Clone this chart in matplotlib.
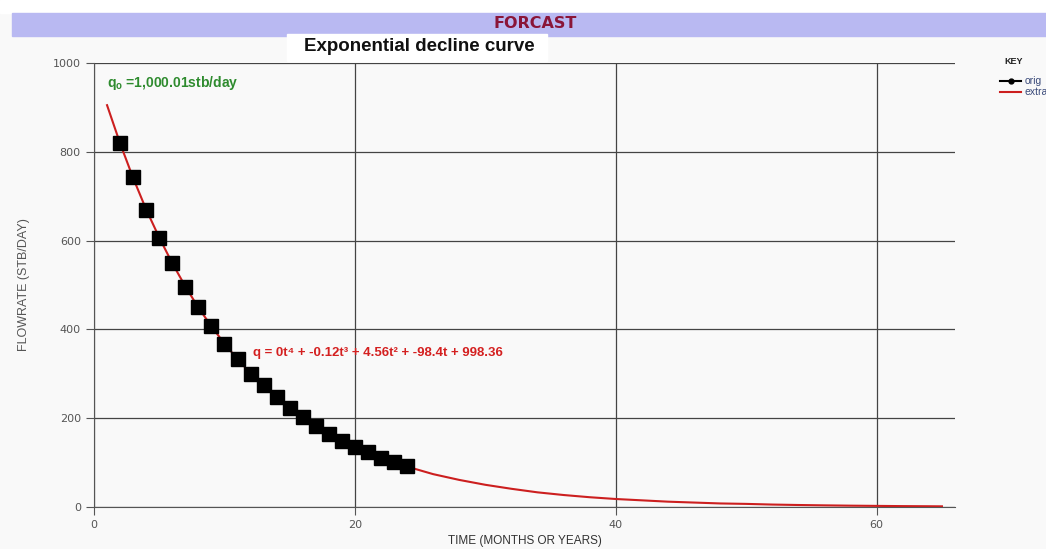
import numpy as np
import matplotlib
matplotlib.use("Agg")
import matplotlib.pyplot as plt
from matplotlib.lines import Line2D

t_orig = [2, 3, 4, 5, 6, 7, 8, 9, 10, 11, 12, 13, 14, 15, 16, 17, 18, 19,
          20, 21, 22, 23, 24]
q_orig = [820, 743, 669, 606, 550, 495, 450, 408, 367, 333, 300, 275, 248,
          223, 203, 182, 164, 149, 135, 124, 110, 101, 92]

# Extrapolated curve
t_extra = [1, 2, 3, 4, 5, 6, 7, 8, 9, 10, 11, 12, 13, 14, 15, 16, 17, 18,
           19, 20, 21, 22, 23, 24, 26, 28, 30, 32, 34, 36, 38, 40, 42, 44,
           46, 48, 50, 52, 54, 56, 58, 60, 62, 64, 65]
q_extra = [905, 819, 741, 670, 607, 549, 497, 449, 407, 368, 333, 301, 273,
           247, 223, 202, 183, 165, 150, 135, 122, 111, 100, 91, 74, 61, 50,
           41, 33, 27, 22, 18, 15, 12, 10, 8, 7, 5.5, 4.5, 3.7, 3, 2.5, 2,
           1.7, 1.5]

x_ticks = [0, 20, 40, 60]
y_ticks = [0, 200, 400, 600, 800, 1000]

title = "Exponential decline curve"
band_text = "FORCAST"
qo_text = "q$_\\mathregular{o}$ =1,000.01stb/day"
eq_text = "q = 0t\u2074 + -0.12t\u00b3 + 4.56t\u00b2 + -98.4t + 998.36"

narrow = ["Liberation Sans Narrow", "DejaVu Sans"]
plt.rcParams["font.family"] = ["Liberation Sans", "DejaVu Sans"]

fig = plt.figure(figsize=(10.46, 5.49), dpi=100)
fig.patch.set_facecolor("#f9f9f9")

# top white strip and lavender band
fig.add_artist(plt.Rectangle((0, 1 - 13 / 549), 1, 13 / 549,
                             transform=fig.transFigure, color="white", zorder=0))
fig.add_artist(plt.Rectangle((12 / 1046, 1 - 36 / 549), 1, 23 / 549,
                             transform=fig.transFigure, color="#b9b9f2", zorder=0))
fig.text(535 / 1046, 1 - 24 / 549, band_text, color="#8a1538", fontsize=11.5,
         fontweight="bold", ha="center", va="center", family=narrow)
fig.add_artist(plt.Rectangle((287 / 1046, 1 - 61 / 549), 260 / 1046, 27 / 549,
                             transform=fig.transFigure, color="white", zorder=1))
fig.text(419 / 1046, 1 - 47 / 549, title, fontsize=13.5, fontweight="bold",
         ha="center", va="center", color="#111111", zorder=2)

ax = fig.add_axes([94 / 1046, 1 - 507 / 549, 861 / 1046, 444 / 549])
ax.set_facecolor("#f9f9f9")
ax.plot(t_extra, q_extra, color="#cc1f1f", lw=1.5, zorder=3)
ax.plot(t_orig, q_orig, "s", color="black", ms=10, zorder=4)

ax.set_xlim(0, 66)
ax.set_ylim(0, 1000)
ax.set_xticks(x_ticks)
ax.set_yticks(y_ticks)
ax.grid(True, color="#444444", lw=0.9)
for s in ["top", "right"]:
    ax.spines[s].set_visible(False)
for s in ["left", "bottom"]:
    ax.spines[s].set_color("#555555")
ax.tick_params(colors="#555555", labelsize=8, length=6)
for lab in ax.get_xticklabels() + ax.get_yticklabels():
    lab.set_family(narrow)
ax.set_xlabel("TIME (MONTHS OR YEARS)", fontsize=8.5, color="#333333")
ax.xaxis.set_label_coords((525 - 94) / 861, (507 - 535) / 444)
ax.set_ylabel("FLOWRATE (STB/DAY)", fontsize=9, color="#555555")
ax.yaxis.set_label_coords((30 - 94) / 861, 0.5)

ax.text(1, 955, qo_text, color="#2e8b2e", fontsize=10, fontweight="bold",
        ha="left", va="center")
ax.text(12.2, 347, eq_text, color="#d42020", fontsize=9.5, fontweight="bold",
        ha="left", va="center")

# legend
fig.text(1004 / 1046, 1 - 62 / 549, "KEY", fontsize=6.5, fontweight="bold",
         ha="left", va="center", color="#222222")
handles = [Line2D([], [], color="black", marker="o", ms=3.5, lw=1.5),
           Line2D([], [], color="#cc1f1f", lw=1.5)]
leg = fig.legend(handles, ["orig", "extra"], loc="upper left",
                 bbox_to_anchor=(995 / 1046, 1 - 71 / 549), frameon=False,
                 fontsize=7.5, handlelength=2.0, handletextpad=0.3,
                 labelspacing=0.1, borderpad=0)
for txt in leg.get_texts():
    txt.set_color("#3a4a7a")

fig.savefig("out.png", dpi=100, facecolor=fig.get_facecolor())
